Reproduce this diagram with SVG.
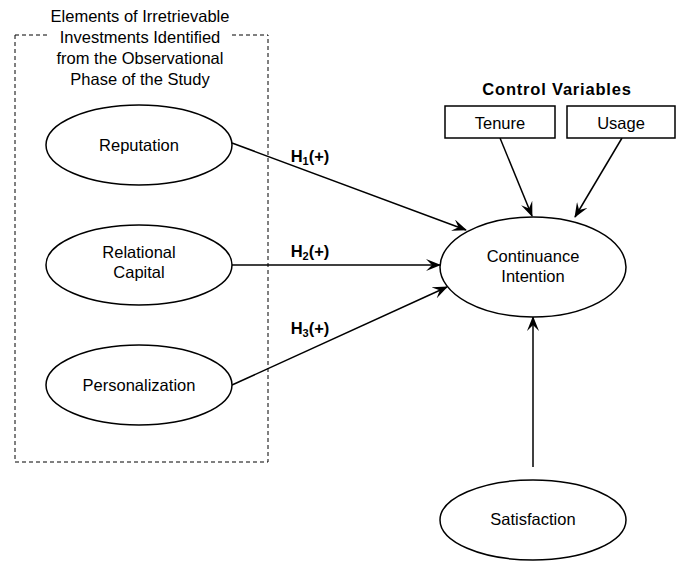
<svg xmlns="http://www.w3.org/2000/svg" width="684" height="565" viewBox="0 0 684 565">
<style>
text{font-family:"Liberation Sans",Arial,sans-serif;font-size:16.5px;fill:#000;text-anchor:middle}
.b{font-weight:bold}
.n{fill:#fff;stroke:#000;stroke-width:1.5}
.c{stroke:#000;stroke-width:1.5;fill:none;marker-end:url(#a)}
</style>
<defs>
<marker id="a" viewBox="0 0 15 12" refX="14" refY="6" markerWidth="15" markerHeight="12" markerUnits="userSpaceOnUse" orient="auto">
<path d="M0,0 L15,6 L0,12 L6,6 Z" fill="#000"/>
</marker>
</defs>
<rect width="684" height="565" fill="#fff"/>
<g id="group-box">
<path d="M15,35 V462 H268 V35" fill="none" stroke="#000" stroke-dasharray="4,3"/>
<path d="M15,35 H49 M232,35 H268" fill="none" stroke="#000" stroke-dasharray="4,3"/>
<text x="140" y="22">Elements of Irretrievable</text>
<text x="140" y="43">Investments Identified</text>
<text x="140" y="64">from the Observational</text>
<text x="140" y="85">Phase of the Study</text>
</g>
<g id="connectors">
<line class="c" x1="232" y1="143" x2="466" y2="230"/>
<line class="c" x1="232" y1="265" x2="440" y2="265"/>
<line class="c" x1="232" y1="385" x2="447" y2="287"/>
<line class="c" x1="500" y1="138" x2="532" y2="216"/>
<line class="c" x1="622" y1="138" x2="575" y2="217"/>
<line class="c" x1="533" y1="467" x2="533" y2="317"/>
<text class="b" x="310" y="162" font-size="15.5">H<tspan font-size="11" dy="3">1</tspan><tspan dy="-3">(+)</tspan></text>
<text class="b" x="310" y="257" font-size="15.5">H<tspan font-size="11" dy="3">2</tspan><tspan dy="-3">(+)</tspan></text>
<text class="b" x="310" y="334" font-size="15.5">H<tspan font-size="11" dy="3">3</tspan><tspan dy="-3">(+)</tspan></text>
</g>
<g id="reputation">
<ellipse class="n" cx="139" cy="145" rx="93" ry="40"/>
<text x="139" y="151">Reputation</text>
</g>
<g id="relational-capital">
<ellipse class="n" cx="139" cy="265" rx="93" ry="40"/>
<text x="139" y="258">Relational</text>
<text x="139" y="278">Capital</text>
</g>
<g id="personalization">
<ellipse class="n" cx="139" cy="385" rx="93" ry="40"/>
<text x="139" y="391">Personalization</text>
</g>
<g id="continuance-intention">
<ellipse class="n" cx="533" cy="267" rx="93" ry="50"/>
<text x="533" y="262">Continuance</text>
<text x="533" y="282">Intention</text>
</g>
<g id="control-variables">
<text class="b" x="557" y="95" font-size="16" letter-spacing="0.8">Control Variables</text>
</g>
<g id="tenure">
<rect class="n" x="445" y="106" width="110" height="32"/>
<text x="500" y="129">Tenure</text>
</g>
<g id="usage">
<rect class="n" x="567" y="106" width="108" height="32"/>
<text x="621" y="129">Usage</text>
</g>
<g id="satisfaction">
<ellipse class="n" cx="533" cy="520" rx="93" ry="40"/>
<text x="533" y="525">Satisfaction</text>
</g>
</svg>
